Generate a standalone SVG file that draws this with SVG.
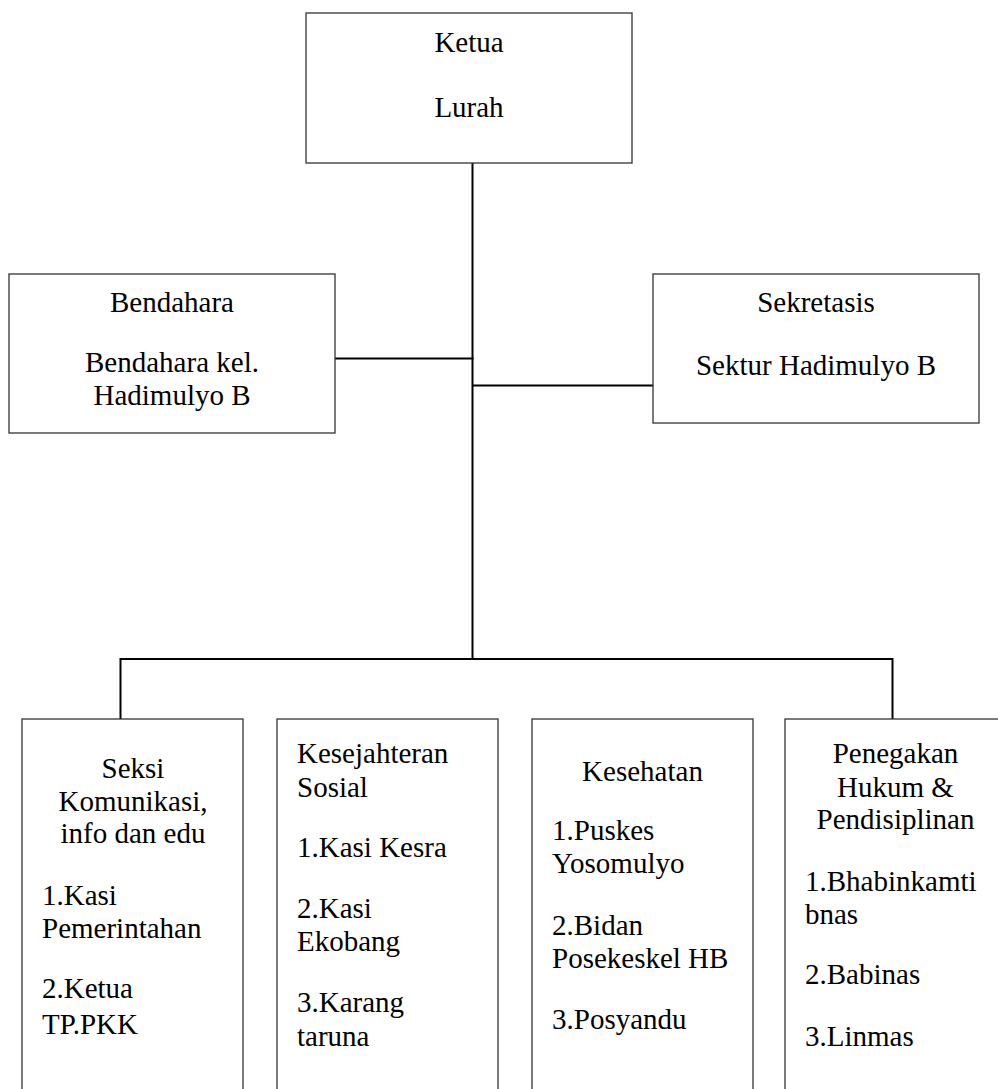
<svg xmlns="http://www.w3.org/2000/svg" width="998" height="1089" viewBox="0 0 998 1089">
<style>
.box{fill:#fff;stroke:#333;stroke-width:1.3}
.con{fill:none;stroke:#000;stroke-width:2}
.t{font-family:'Liberation Serif','Times New Roman',serif;font-size:29px;fill:#000}
.c{text-anchor:middle}
</style>
<rect width="998" height="1089" fill="#fff"/>
<g id="connectors">
<line class="con" x1="472.5" y1="163" x2="472.5" y2="659"/>
<line class="con" x1="335" y1="358.5" x2="473.5" y2="358.5"/>
<line class="con" x1="472.5" y1="385.5" x2="653" y2="385.5"/>
<polyline class="con" points="120.5,719 120.5,659 892.5,659 892.5,719"/>
</g>
<g id="ketua" class="t">
<rect class="box" x="306" y="13" width="326" height="150"/>
<text class="c" x="469" y="52">Ketua</text>
<text class="c" x="469" y="117">Lurah</text>
</g>
<g id="bendahara" class="t">
<rect class="box" x="9" y="274" width="326" height="159"/>
<text class="c" x="172" y="312">Bendahara</text>
<text class="c" x="172" y="372">Bendahara kel.</text>
<text class="c" x="172" y="405">Hadimulyo B</text>
</g>
<g id="sekretasis" class="t">
<rect class="box" x="653" y="274" width="326" height="149"/>
<text class="c" x="816" y="312">Sekretasis</text>
<text class="c" x="816" y="375">Sektur Hadimulyo B</text>
</g>
<g id="seksi-komunikasi" class="t">
<rect class="box" x="22" y="719" width="221" height="400"/>
<text class="c" x="133" y="778">Seksi</text>
<text class="c" x="133" y="811">Komunikasi,</text>
<text class="c" x="133" y="843">info dan edu</text>
<text x="42" y="905">1.Kasi</text>
<text x="42" y="938">Pemerintahan</text>
<text x="42" y="998">2.Ketua</text>
<text x="42" y="1034">TP.PKK</text>
</g>
<g id="kesejahteran-sosial" class="t">
<rect class="box" x="277" y="719" width="221" height="400"/>
<text x="297" y="763">Kesejahteran</text>
<text x="297" y="797">Sosial</text>
<text x="297" y="857">1.Kasi Kesra</text>
<text x="297" y="918">2.Kasi</text>
<text x="297" y="951">Ekobang</text>
<text x="297" y="1012">3.Karang</text>
<text x="297" y="1046">taruna</text>
</g>
<g id="kesehatan" class="t">
<rect class="box" x="532" y="719" width="221" height="400"/>
<text class="c" x="642.5" y="781">Kesehatan</text>
<text x="552" y="840">1.Puskes</text>
<text x="552" y="873">Yosomulyo</text>
<text x="552" y="935">2.Bidan</text>
<text x="552" y="968">Posekeskel HB</text>
<text x="552" y="1029">3.Posyandu</text>
</g>
<g id="penegakan-hukum" class="t">
<rect class="box" x="785" y="719" width="221" height="400"/>
<text class="c" x="895.5" y="763">Penegakan</text>
<text class="c" x="895.5" y="797">Hukum &amp;</text>
<text class="c" x="895.5" y="829">Pendisiplinan</text>
<text x="805" y="891">1.Bhabinkamti</text>
<text x="805" y="924">bnas</text>
<text x="805" y="984">2.Babinas</text>
<text x="805" y="1046">3.Linmas</text>
</g>
</svg>
